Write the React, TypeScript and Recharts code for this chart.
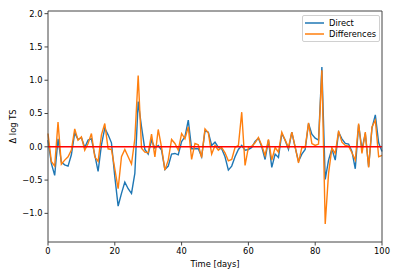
import React from 'react';
import {
  LineChart,
  Line,
  XAxis,
  YAxis,
  ReferenceLine,
  Legend
} from 'recharts';

// values, one per day (0..100)
const direct = [
  0.1, -0.25, -0.43, 0.12, -0.23, -0.27, -0.29, -0.12, 0.21, 0.11,
  0.14, -0.01, 0.1, 0.12, -0.12, -0.37, 0.03, 0.28, 0.18, 0.06,
  -0.45, -0.89, -0.7, -0.53, -0.63, -0.7, -0.4, 0.68, 0.3, -0.04,
  -0.11, 0.1, -0.02, 0.02, -0.05, -0.34, -0.29, -0.11, -0.1, -0.12,
  0.08, 0.15, 0.4, -0.03, -0.03, -0.03, -0.15, 0.24, 0.22, 0.02,
  0.07, -0.01, -0.03, -0.15, -0.35, -0.29, -0.15, -0.04, 0.02, -0.05,
  -0.04, -0.01, 0.08, 0.13, 0, -0.19, 0.1, -0.31, -0.11, -0.16,
  0.2, 0.1, -0.04, 0.22, -0.01, -0.22, -0.11, -0.04, 0.35, 0.19,
  0.13, 0.1, 1.2, -0.49, -0.2, -0.03, -0.2, 0.22, 0.12, 0.05,
  0.04, -0.07, -0.33, 0.33, -0.04, 0.2, -0.3, 0.28, 0.48, 0.06,
  -0.07
];

const differences = [
  0.2, -0.22, -0.29, 0.37, -0.26, -0.2, -0.15, -0.05, 0.27, 0.1,
  0.15, -0.05, 0.05, 0.2, -0.15, -0.22, 0.18, 0.35, -0.03, -0.04,
  -0.33, -0.63, -0.15, -0.04, -0.15, -0.26, 0.12, 1.07, -0.02, -0.08,
  -0.09, 0.19, -0.15, 0.26, -0.01, -0.35, -0.2, 0.11, 0.05, -0.05,
  0.2, 0.12, 0.3, -0.19, 0.05, 0.03, -0.16, 0.27, 0.21, -0.11,
  0.02, -0.05, -0.01, -0.09, -0.21, -0.19, -0.01, 0.02, 0.52, -0.28,
  -0.01, 0.01, 0.06, 0.14, 0.02, -0.13, 0.11, -0.2, -0.01, -0.08,
  0.22, 0.1, -0.01, 0.22, 0, -0.24, -0.01, -0.01, 0.36, 0.05,
  0.02, 0.04, 1.15, -1.16, -0.4, -0.02, -0.1, 0.24, 0.07, 0.02,
  0.01, -0.09, -0.2, 0.35, -0.1, 0.22, -0.31, 0.3, 0.4, -0.15,
  -0.13
];

const seriesNames = ['Direct', 'Differences'];
const xTicks = [0, 20, 40, 60, 80, 100];
const yTicks = [-1, -0.5, 0, 0.5, 1, 1.5, 2];

const data = direct.map((d, i) => ({ day: i, direct: d, differences: differences[i] }));

const FONT = 'DejaVu Sans, sans-serif';
const SPINE = '#444';
const Y_DOMAIN: [number, number] = [-1.43, 2.04];

const fmtY = (v: number) => v.toFixed(1).replace('-', '\u2212');

const renderLegend = (props: any) => {
  const items = [...(props.payload || [])].sort(
    (a: any, b: any) => seriesNames.indexOf(a.value) - seriesNames.indexOf(b.value)
  );
  return (
    <div
      style={{
        border: '1px solid #d0d0d0',
        borderRadius: 2,
        background: 'rgba(255,255,255,0.8)',
        padding: '1px 3px 1px 2px',
        fontFamily: FONT,
        fontSize: 8.3,
        color: '#000'
      }}
    >
      {items.map((entry: any) => (
        <div key={entry.value} style={{ display: 'flex', alignItems: 'center', height: 11.6 }}>
          <svg width={19} height={4} style={{ marginRight: 5 }}>
            <line x1={0} y1={2} x2={19} y2={2} stroke={entry.color} strokeWidth={1.5} />
          </svg>
          <span>{entry.value}</span>
        </div>
      ))}
    </div>
  );
};

export default function App() {
  return (
    <div style={{ position: 'absolute', left: 0, top: 0, width: 398, height: 270, background: '#fff' }}>
      <LineChart
        width={398}
        height={270}
        data={data}
        margin={{ top: 10, right: 15, bottom: 0, left: 0 }}
        style={{ fontFamily: FONT }}
      >
        <XAxis
          dataKey="day"
          type="number"
          domain={[0, 100]}
          ticks={xTicks}
          height={28}
          tickSize={3.5}
          tickMargin={3}
          stroke={SPINE}
          tick={{ fill: '#000', fontSize: 8.3 }}
          label={{ value: 'Time [days]', position: 'insideBottom', offset: 3, fill: '#000', fontSize: 8.3 }}
        />
        <XAxis
          xAxisId="top"
          orientation="top"
          dataKey="day"
          type="number"
          domain={[0, 100]}
          height={1}
          tick={false}
          tickLine={false}
          stroke={SPINE}
        />
        <YAxis
          type="number"
          domain={Y_DOMAIN}
          ticks={yTicks}
          width={48}
          tickSize={3.5}
          tickMargin={2}
          stroke={SPINE}
          tickFormatter={fmtY}
          tick={{ fill: '#000', fontSize: 8.3 }}
          allowDataOverflow
          label={{
            value: '\u0394 log TS',
            angle: -90,
            position: 'insideLeft',
            offset: 13,
            fill: '#000',
            fontSize: 8.3,
            style: { textAnchor: 'middle' }
          }}
        />
        <YAxis
          yAxisId="right"
          orientation="right"
          type="number"
          domain={Y_DOMAIN}
          width={1}
          tick={false}
          tickLine={false}
          stroke={SPINE}
        />
        <Legend
          layout="vertical"
          align="center"
          verticalAlign="middle"
          content={renderLegend}
          wrapperStyle={{ top: 15, left: 302, width: 'auto' }}
        />
        <Line
          type="linear"
          dataKey="direct"
          name="Direct"
          stroke="#1f77b4"
          strokeWidth={1.4}
          dot={false}
          isAnimationActive={false}
        />
        <Line
          type="linear"
          dataKey="differences"
          name="Differences"
          stroke="#ff7f0e"
          strokeWidth={1.4}
          dot={false}
          isAnimationActive={false}
        />
        <ReferenceLine y={0} stroke="#ff0000" strokeWidth={1.4} />
      </LineChart>
    </div>
  );
}
